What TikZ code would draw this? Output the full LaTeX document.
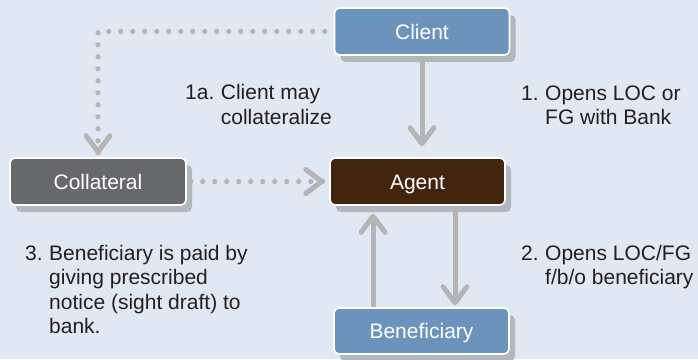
\documentclass[tikz,border=0pt]{standalone}
\usepackage{fontspec}
\setmainfont{Liberation Sans}
\usetikzlibrary{arrows.meta,shadows,calc}

\definecolor{bgblue}{HTML}{E0E8F3}
\definecolor{boxblue}{HTML}{6B93BB}
\definecolor{boxbrown}{HTML}{42250F}
\definecolor{boxgray}{HTML}{67686C}
\definecolor{shadowgray}{HTML}{B3B6BC}
\definecolor{arrowgray}{HTML}{B4B4B4}
\definecolor{textdark}{HTML}{231F20}

\newcommand{\diagfont}{\fontsize{21pt}{24.6pt}\selectfont}

\tikzset{
  box/.style={rectangle, rounded corners=5pt, draw=white, line width=1.6pt,
    minimum width=175pt, minimum height=47pt, inner sep=0pt,
    text=white, font=\diagfont, text height=15pt, text depth=0pt,
    drop shadow={shadow xshift=6pt, shadow yshift=-7pt, fill=shadowgray, opacity=1}},
  flow/.style={draw=arrowgray, line width=5pt,
    -{Straight Barb[length=16pt,width=24pt,round]}},
  dotflow/.style={draw=arrowgray, line width=5.2pt, line cap=round,
    dash pattern=on 0pt off 12pt},
  barbtip/.style={draw=arrowgray, line width=5pt,
    -{Straight Barb[length=16pt,width=24pt,round]}},
  note/.style={text=textdark, font=\diagfont, inner sep=0pt, anchor=base west},
}

\begin{document}
\begin{tikzpicture}[x=1pt,y=-1pt]
  % canvas
  \fill[bgblue] (0,0) rectangle (698,359);
  \useasboundingbox (0,0) rectangle (698,359);

  % parties
  \node[box, fill=boxblue]  (client)      at (422,31.5)  {Client};
  \node[box, fill=boxbrown] (agent)       at (417.5,181.5) {Agent};
  \node[box, fill=boxgray, minimum width=176pt] (collateral) at (98,181.5) {Collateral};
  \node[box, fill=boxblue, minimum height=46pt] (beneficiary) at (421.5,331) {Beneficiary};

  % solid flows
  \draw[flow, shorten >=11pt] (client.south) -- (client.south |- agent.north);
  \draw[flow, shorten >=2pt] ([xshift=37.5pt]agent.south)
      -- ([xshift=37.5pt]agent.south |- beneficiary.north);
  \draw[flow, shorten >=8pt] ([xshift=-48.5pt]beneficiary.north)
      -- ([xshift=-48.5pt]beneficiary.north |- agent.south);

  % dotted flows
  \draw[dotflow] ([xshift=-9pt]client.west) -| ([yshift=3pt]collateral.north);
  \draw[barbtip] ([yshift=6pt]collateral.north) -- ([yshift=3pt]collateral.north);
  \draw[dotflow] ([xshift=4pt]collateral.east) -- ([xshift=-5pt]agent.west);
  \draw[barbtip] ([xshift=-8pt]agent.west) -- ([xshift=-5pt]agent.west);

  % step notes
  \node[note] (n1a) at (185,99.5) {\begin{tabular}[t]{@{}l@{\hspace{6.5pt}}l@{}}1a.&Client may\\&collateralize\end{tabular}};
  \node[note] (n1) at (521,100) {\begin{tabular}[t]{@{}l@{\hspace{6.5pt}}l@{}}1.&Opens LOC or\\&FG with Bank\end{tabular}};
  \node[note] (n2) at (521,260) {\begin{tabular}[t]{@{}l@{\hspace{6.5pt}}l@{}}2.&Opens LOC/FG\\&f/b/o beneficiary\end{tabular}};
  \node[note] (n3) at (25,260) {\begin{tabular}[t]{@{}l@{\hspace{6.5pt}}l@{}}3.&Beneficiary is paid by\\&giving prescribed\\&notice (sight draft) to\\&bank.\end{tabular}};
\end{tikzpicture}
\end{document}
